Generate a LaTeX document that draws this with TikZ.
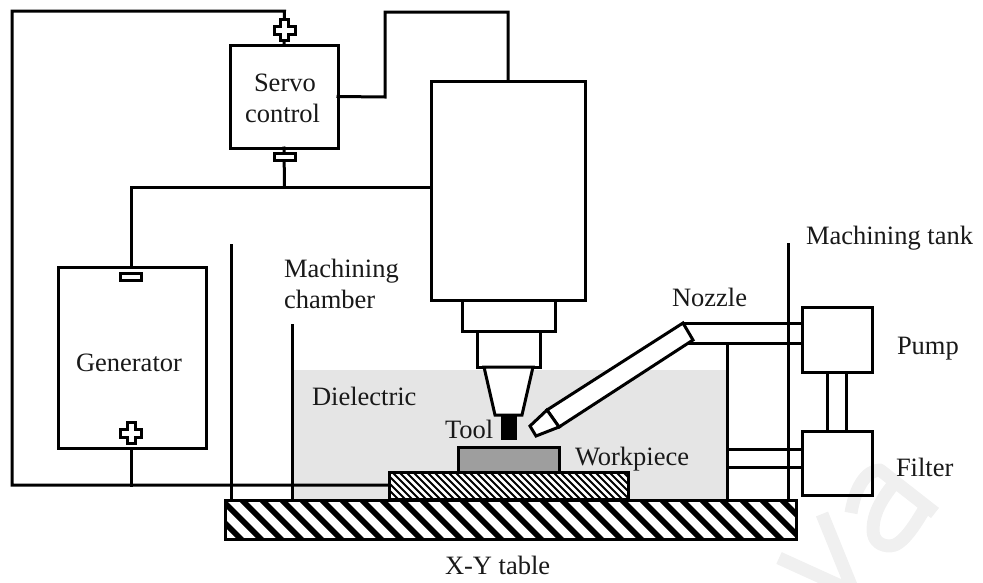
\documentclass[tikz,border=0pt]{standalone}
\usepackage{fontspec}
\setmainfont{Liberation Serif}
\tikzset{
  wire/.style={line width=3pt,line join=miter,line cap=rect},
  thinwall/.style={line width=3pt},
  boxn/.style={draw,line width=3pt,fill=white,inner sep=0pt,outer sep=0pt,align=center},
  lab/.style={inner sep=0pt,outer sep=0pt,anchor=base west,text=black!90},
  minusmark/.style={draw,line width=3pt,fill=white,minimum width=21pt,minimum height=7pt,inner sep=0pt,outer sep=0pt},
  plusmark/.pic={\draw[line width=3pt,fill=white,line join=miter]
     (-4,-10.5)--(4,-10.5)--(4,-4)--(10.5,-4)--(10.5,4)--(4,4)--(4,10.5)--(-4,10.5)--(-4,4)--(-10.5,4)--(-10.5,-4)--(-4,-4)--cycle;}
}
\begin{document}
\begin{tikzpicture}[x=1pt,y=-1pt,font=\fontsize{26.5}{31.5}\selectfont]
\useasboundingbox (0,0) rectangle (983,582);
\fill[white] (0,0) rectangle (983,582);
% dielectric
\fill[black!10] (293,370) rectangle (727,500);
% table
\node[boxn,minimum width=571pt,minimum height=39pt] (table) at (511,520) {};
\begin{scope}
\clip (225,501) rectangle (797,539);
\foreach \i in {0,...,31}{
  \fill[black] ({178+20*\i},500) -- ({186+20*\i},500) -- ({226+20*\i},540) -- ({218+20*\i},540) -- cycle;}
\end{scope}
\draw[line width=3pt] (table.north west) rectangle (table.south east);
% plate
\node[boxn,minimum width=239pt,minimum height=27pt] (plate) at (508.5,485.5) {};
\begin{scope}
\clip (389,472) rectangle (628,499);
\foreach \i in {0,...,44}{
  \draw[line width=1.9pt] ({362+7*\i},470) -- ({392+7*\i},500);}
\end{scope}
\draw[line width=3pt] (plate.north west) rectangle (plate.south east);
% workpiece
\node[boxn,fill=black!38,minimum width=101pt,minimum height=25pt] (work) at (508.5,459.5) {};
% walls
\coordinate (w1t) at (231,244); \coordinate (w1b) at (231,500);
\coordinate (w2t) at (292,324); \coordinate (w2b) at (292,500);
\coordinate (w3t) at (727,343); \coordinate (w3b) at (727,500);
\coordinate (w4t) at (788,243); \coordinate (w4b) at (788,500);
\draw[thinwall] (w1t)--(w1b) (w2t)--(w2b) (w3t)--(w3b) (w4t)--(w4b);
% head
\node[boxn,minimum width=154pt,minimum height=219pt] (head) at (508,190.5) {};
\node[boxn,minimum width=93pt,minimum height=31pt] (neck) at (508.5,315.5) {};
\node[boxn,minimum width=63pt,minimum height=36pt] (chuck) at (508.5,349) {};
\draw[line width=3pt,fill=white] (484,367) -- (533,367) -- (522,415) -- (495,415) -- cycle;
\node[draw,fill=black,line width=1pt,minimum width=15pt,minimum height=24pt,inner sep=0pt,outer sep=0pt] (tool) at (509,427) {};
% servo and generator
\node[boxn,minimum width=108pt,minimum height=103pt] (servo) at (284,96.5) {};
\node[boxn,minimum width=148pt,minimum height=181pt] (gen) at (132,357.5) {};
% wires
\coordinate (tl) at (12,11);
\coordinate (tr) at (284.5,11);
\coordinate (bl) at (12,485);
\coordinate (j1) at (131,485);
\coordinate (j2) at (284.5,187);
\coordinate (j3) at (131,187);
\coordinate (up1) at (385,97);
\coordinate (up2) at (385,12);
\coordinate (up3) at (508,12);
\draw[wire] (servo.north) -- (tr) -- (tl) -- (bl) -- (plate.west |- 0,485);
\draw[wire] (gen.south -| j1) -- (j1);
\draw[wire] (servo.south) -- (j2);
\draw[wire] (head.west |- 0,187) -- (j3) -- (gen.north -| j3);
\draw[wire] (servo.east) -- (up1) -- (up2) -- (up3) -- (head.north);
\pic at (284.5,30) {plusmark};
\node[minusmark] (m1) at (285,157) {};
\node[minusmark] (m2) at (131,277) {};
\pic at (131,433) {plusmark};
% pump, filter
\node[boxn,minimum width=70pt,minimum height=65pt] (pump) at (837,339.5) {};
\node[boxn,minimum width=70pt,minimum height=64pt] (filter) at (837,463) {};
\draw[thinwall] (827,372) -- (827,431) (846,372) -- (846,431);
% pipes
\coordinate (e1) at (683,323); \coordinate (e2) at (693,340);
\coordinate (e3) at (686,343);
\draw[thinwall] (e1) -- (pump.west |- 0,323) (e3) -- (pump.west |- 0,343);
\draw[thinwall] (w3t |- 0,449) -- (filter.west |- 0,449) (w3t |- 0,467) -- (filter.west |- 0,467);
% nozzle
\coordinate (n1) at (547,410); \coordinate (n2) at (559,427);
\draw[line width=3pt,fill=white,line join=miter] (e1) -- (n1) -- (n2) -- (e2) -- cycle;
\draw[line width=3pt,fill=white,line join=miter] (n1) -- (530,426) -- (536,436) -- (n2) -- cycle;
% labels
\node[lab] (s1) at (254,91) {Servo};
\node[lab] (s2) at (245,122.5) {control};
\node[lab] (g1) at (76,371) {Generator};
\node[lab] (l1) at (284,277) {Machining};
\node[lab] (l2) at (284,308) {chamber};
\node[lab] (l3) at (806,244) {Machining tank};
\node[lab] (l4) at (672,306) {Nozzle};
\node[lab] (l5) at (897,354) {Pump};
\node[lab] (l6) at (896,476) {Filter};
\node[lab] (l7) at (312,405) {Dielectric};
\node[lab] (l8) at (445,438) {Tool};
\node[lab] (l9) at (575,465) {Workpiece};
\node[lab] (l10) at (445,574) {X-Y table};
% faint watermark over the picture
\begin{scope}
\clip (0,0) rectangle (983,582);
\draw[black,draw opacity=0.06,line width=13pt,line join=round]
  (779,558) -- (845,588)
  (822,514) -- (852,588)
  (851,513) .. controls (855,488) and (866,470) .. (880,470) -- (935,513)
  (897,480) .. controls (880,500) and (873,515) .. (873,530) .. controls (873,542) and (882,546) .. (890,546) .. controls (902,546) and (915,525) .. (925,508);
\end{scope}
\end{tikzpicture}
\end{document}
